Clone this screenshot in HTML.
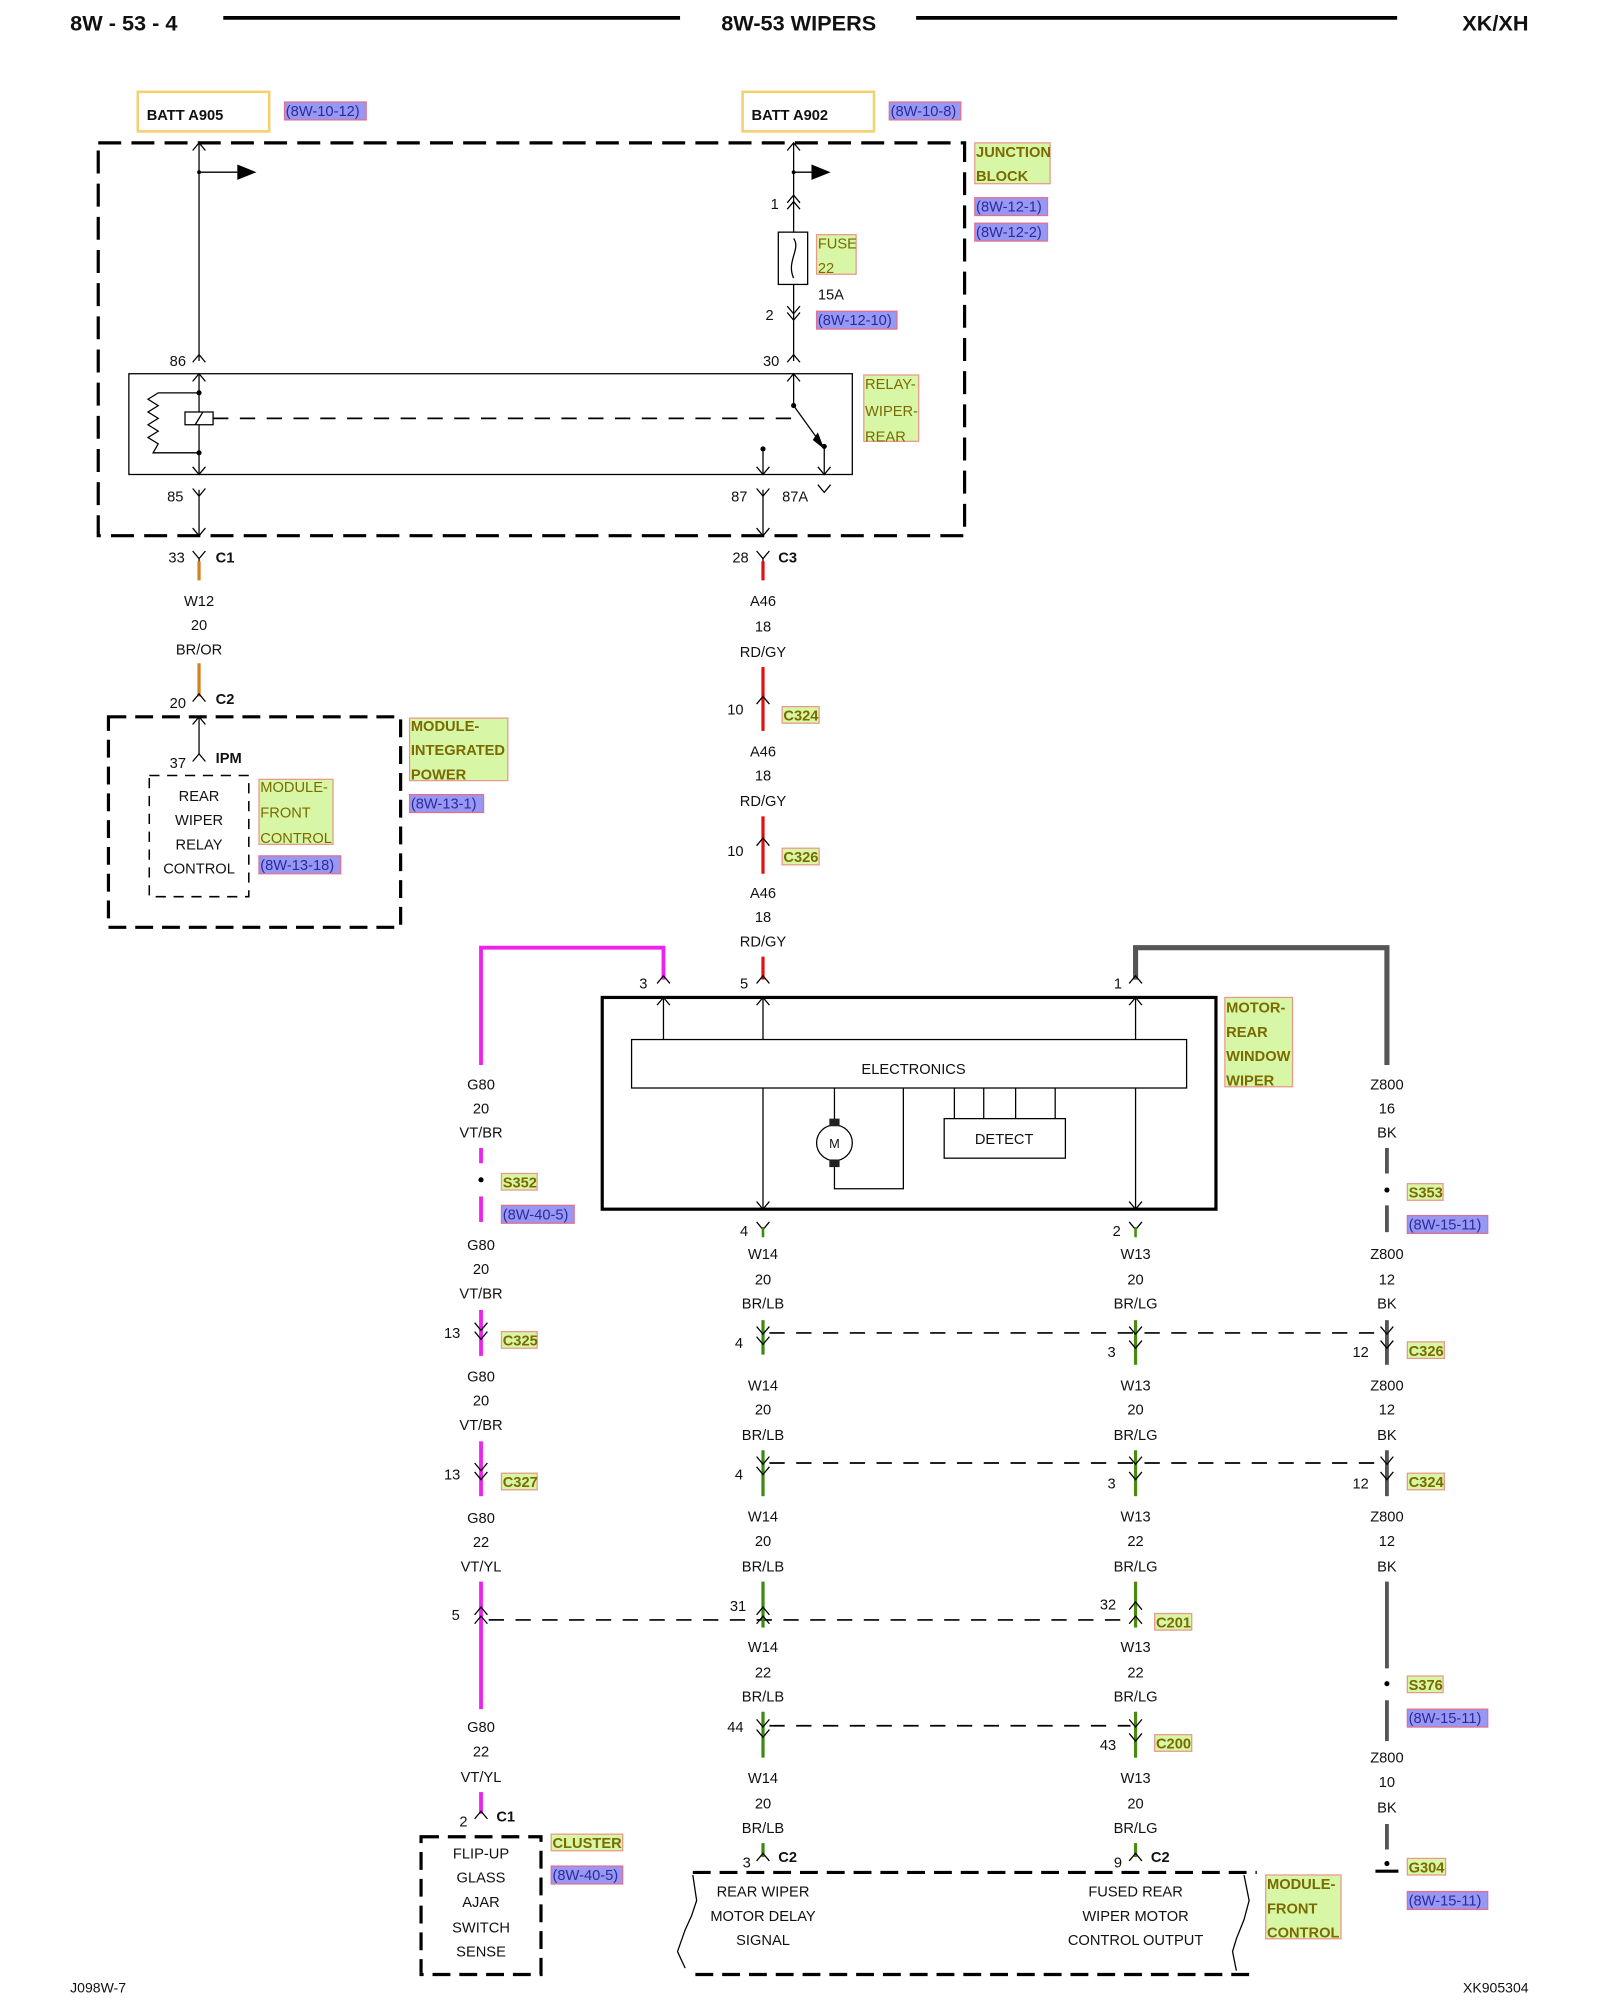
<!DOCTYPE html>
<html><head><meta charset="utf-8"><style>
html,body{margin:0;padding:0;background:#fff}
svg{display:block}
text{font-family:"Liberation Sans",sans-serif;font-size:11.5px;fill:#111}
.m{text-anchor:middle}
.b{font-weight:bold}
.g{fill:#7a6a00;font-size:11.5px}
.bl{fill:#2a2aa0;font-size:11.5px}
.h{font-size:17px;font-weight:bold}
</style></head><body>
<svg width="1600" height="2000" viewBox="0 0 1254 1568" preserveAspectRatio="none" xmlns="http://www.w3.org/2000/svg">
<defs>
<path id="up" d="M-5,6 L0,0 L5,6" fill="none" stroke="#000" stroke-width="1"/>
<path id="dn" d="M-5,-6 L0,0 L5,-6" fill="none" stroke="#000" stroke-width="1"/>
</defs>
<g fill="none" stroke="#000">
<line x1="175" y1="14" x2="533" y2="14" stroke-width="3"/>
<line x1="718" y1="14" x2="1095" y2="14" stroke-width="3"/>
</g>
<text x="55" y="24" class="h">8W - 53 - 4</text>
<text x="626" y="24" class="h m">8W-53 WIPERS</text>
<text x="1198" y="24" class="h" text-anchor="end">XK/XH</text>

<rect x="108" y="72" width="103" height="31" fill="#fff" stroke="#f5d070" stroke-width="2"/>
<text x="115" y="94" class="b">BATT A905</text>
<rect x="582" y="72" width="103" height="31" fill="#fff" stroke="#f5d070" stroke-width="2"/>
<text x="589" y="94" class="b">BATT A902</text>

<g stroke="#e07090" stroke-width="1" fill="#9898f2">
<rect x="223" y="80" width="64" height="14"/>
<rect x="697" y="80" width="56" height="14"/>
<rect x="764" y="155" width="57" height="14"/>
<rect x="764" y="175" width="57" height="14"/>
<rect x="640" y="244" width="63" height="14"/>
<rect x="203" y="671" width="64" height="14"/>
<rect x="321" y="623" width="58" height="14"/>
<rect x="393" y="945" width="57" height="14"/>
<rect x="1103" y="953" width="63" height="14"/>
<rect x="1103" y="1340" width="63" height="14"/>
<rect x="432" y="1463" width="56" height="14"/>
<rect x="1103" y="1483" width="63" height="14"/>
</g>
<text x="224" y="91" class="bl">(8W-10-12)</text>
<text x="698" y="91" class="bl">(8W-10-8)</text>
<text x="765" y="166" class="bl">(8W-12-1)</text>
<text x="765" y="186" class="bl">(8W-12-2)</text>
<text x="641" y="255" class="bl">(8W-12-10)</text>
<text x="204" y="682" class="bl">(8W-13-18)</text>
<text x="322" y="634" class="bl">(8W-13-1)</text>
<text x="394" y="956" class="bl">(8W-40-5)</text>
<text x="1104" y="964" class="bl">(8W-15-11)</text>
<text x="1104" y="1351" class="bl">(8W-15-11)</text>
<text x="433" y="1474" class="bl">(8W-40-5)</text>
<text x="1104" y="1494" class="bl">(8W-15-11)</text>

<g stroke="#e89a8a" stroke-width="1" fill="#d8f7a6">
<rect x="764" y="112" width="59" height="32"/>
<rect x="640" y="184" width="31" height="31"/>
<rect x="677" y="294" width="43" height="52"/>
<rect x="321" y="563" width="77" height="49"/>
<rect x="203" y="611" width="58" height="51"/>
<rect x="613" y="554" width="29" height="13"/>
<rect x="613" y="665" width="29" height="13"/>
<rect x="960" y="782" width="53" height="70"/>
<rect x="393" y="920" width="28" height="13"/>
<rect x="1103" y="928" width="28" height="13"/>
<rect x="393" y="1044" width="28" height="13"/>
<rect x="1103" y="1052" width="29" height="13"/>
<rect x="393" y="1155" width="28" height="13"/>
<rect x="1103" y="1155" width="29" height="13"/>
<rect x="905" y="1265" width="29" height="13"/>
<rect x="1103" y="1314" width="28" height="13"/>
<rect x="905" y="1360" width="29" height="13"/>
<rect x="432" y="1438" width="56" height="13"/>
<rect x="1103" y="1457" width="30" height="13"/>
<rect x="992" y="1470" width="59" height="50"/>
</g>
<g class="g">
<text x="765" y="123" class="g b">JUNCTION</text><text x="765" y="142" class="g b">BLOCK</text>
<text x="641" y="195" class="g">FUSE</text><text x="641" y="214" class="g">22</text>
<text x="678" y="305" class="g">RELAY-</text><text x="678" y="326" class="g">WIPER-</text><text x="678" y="346" class="g">REAR</text>
<text x="322" y="573" class="g b">MODULE-</text><text x="322" y="592" class="g b">INTEGRATED</text><text x="322" y="611" class="g b">POWER</text>
<text x="204" y="621" class="g">MODULE-</text><text x="204" y="641" class="g">FRONT</text><text x="204" y="661" class="g">CONTROL</text>
<text x="614" y="565" class="g b">C324</text>
<text x="614" y="676" class="g b">C326</text>
<text x="961" y="794" class="g b">MOTOR-</text><text x="961" y="813" class="g b">REAR</text><text x="961" y="832" class="g b">WINDOW</text><text x="961" y="851" class="g b">WIPER</text>
<text x="394" y="931" class="g b">S352</text>
<text x="1104" y="939" class="g b">S353</text>
<text x="394" y="1055" class="g b">C325</text>
<text x="1104" y="1063" class="g b">C326</text>
<text x="394" y="1166" class="g b">C327</text>
<text x="1104" y="1166" class="g b">C324</text>
<text x="906" y="1276" class="g b">C201</text>
<text x="1104" y="1325" class="g b">S376</text>
<text x="906" y="1371" class="g b">C200</text>
<text x="433" y="1449" class="g b">CLUSTER</text>
<text x="1104" y="1468" class="g b">G304</text>
<text x="993" y="1481" class="g b">MODULE-</text><text x="993" y="1500" class="g b">FRONT</text><text x="993" y="1519" class="g b">CONTROL</text>
</g>

<g fill="none" stroke="#000">
<rect x="77" y="112" width="679" height="308" stroke-width="2.5" stroke-dasharray="18,8"/>
<line x1="156" y1="112" x2="156" y2="283"/>
<line x1="622" y1="112" x2="622" y2="283"/>
<line x1="156" y1="135" x2="186" y2="135"/>
<line x1="622" y1="135" x2="636" y2="135"/>
<rect x="610" y="182" width="23" height="41" fill="#fff"/>
<path d="M622,187 C628,195 616,205 622,218" />
<rect x="101" y="293" width="567" height="79"/>
<line x1="156" y1="293" x2="156" y2="372"/>
<path d="M156,308 H124 L116,313 L124,318 L116,323 L124,328 L116,333 L124,338 L116,343 L124,348 L120,355 H156"/>
<rect x="145" y="323" width="22" height="10" fill="#fff"/>
<line x1="153" y1="333" x2="159" y2="323"/>
<line x1="167" y1="328" x2="622" y2="328" stroke-dasharray="12,9" stroke-width="1.3"/>
<line x1="622" y1="293" x2="622" y2="318"/>
<line x1="622" y1="318" x2="645" y2="350"/>
<line x1="598" y1="352" x2="598" y2="372"/>
<line x1="646" y1="350" x2="646" y2="372"/>
<line x1="156" y1="384" x2="156" y2="420"/>
<line x1="598" y1="384" x2="598" y2="420"/>
</g>
<path d="M186,129 L201,135 L186,141Z" fill="#000"/>
<path d="M636,129 L651,135 L636,141Z" fill="#000"/>
<path d="M641,339 L646,352 L637,345Z" fill="#000"/>
<g fill="#000"><circle cx="156" cy="308" r="2"/><circle cx="156" cy="355" r="2"/><circle cx="622" cy="318" r="2"/><circle cx="598" cy="352" r="2"/><circle cx="646" cy="350" r="2"/><circle cx="156" cy="135" r="1.5"/><circle cx="622" cy="135" r="1.5"/></g>
<use href="#up" x="156" y="112"/><use href="#up" x="622" y="112"/>
<use href="#up" x="622" y="153"/><use href="#up" x="622" y="158"/>
<use href="#dn" x="622" y="246"/><use href="#dn" x="622" y="251"/>
<use href="#up" x="156" y="278"/><use href="#up" x="622" y="278"/>
<use href="#up" x="156" y="293"/><use href="#up" x="622" y="293"/>
<use href="#dn" x="156" y="372"/><use href="#dn" x="598" y="372"/><use href="#dn" x="646" y="372"/>
<use href="#dn" x="156" y="389"/><use href="#dn" x="598" y="389"/><use href="#dn" x="646" y="386"/>
<use href="#dn" x="156" y="420"/><use href="#dn" x="598" y="420"/>
<text x="604" y="164">1</text><text x="641" y="235">15A</text><text x="600" y="251">2</text>
<text x="133" y="287">86</text><text x="598" y="287">30</text>
<text x="131" y="393">85</text><text x="573" y="393">87</text><text x="613" y="393">87A</text>

<use href="#dn" x="156" y="438"/><use href="#dn" x="598" y="438"/>
<line x1="156" y1="438" x2="156" y2="445" stroke="#000"/>
<line x1="598" y1="438" x2="598" y2="445" stroke="#000"/>
<text x="132" y="441">33</text><text x="169" y="441" class="b">C1</text>
<text x="574" y="441">28</text><text x="610" y="441" class="b">C3</text>
<line x1="156" y1="440" x2="156" y2="455" stroke="#d08020" stroke-width="2.5"/>
<line x1="598" y1="440" x2="598" y2="455" stroke="#e01010" stroke-width="2.5"/>
<text x="156" y="475" class="m">W12</text><text x="156" y="494" class="m">20</text><text x="156" y="513" class="m">BR/OR</text>
<line x1="156" y1="520" x2="156" y2="546" stroke="#d08020" stroke-width="2.5"/>
<use href="#up" x="156" y="544"/>
<text x="133" y="555">20</text><text x="169" y="552" class="b">C2</text>
<rect x="85" y="562" width="229" height="165" fill="none" stroke="#000" stroke-width="2.5" stroke-dasharray="14,7"/>
<line x1="156" y1="562" x2="156" y2="591" stroke="#000"/>
<use href="#up" x="156" y="562"/><use href="#up" x="156" y="591"/>
<text x="133" y="602">37</text><text x="169" y="598" class="b">IPM</text>
<rect x="117" y="608" width="78" height="95" fill="none" stroke="#000" stroke-width="1.2" stroke-dasharray="8,6"/>
<text x="156" y="628" class="m">REAR</text><text x="156" y="647" class="m">WIPER</text><text x="156" y="666" class="m">RELAY</text><text x="156" y="685" class="m">CONTROL</text>

<text x="598" y="475" class="m">A46</text><text x="598" y="495" class="m">18</text><text x="598" y="515" class="m">RD/GY</text>
<line x1="598" y1="523" x2="598" y2="573" stroke="#e01010" stroke-width="2.5"/>
<use href="#up" x="598" y="546"/><text x="570" y="560">10</text>
<text x="598" y="593" class="m">A46</text><text x="598" y="612" class="m">18</text><text x="598" y="632" class="m">RD/GY</text>
<line x1="598" y1="640" x2="598" y2="685" stroke="#e01010" stroke-width="2.5"/>
<use href="#up" x="598" y="657"/><text x="570" y="671">10</text>
<text x="598" y="704" class="m">A46</text><text x="598" y="723" class="m">18</text><text x="598" y="742" class="m">RD/GY</text>
<line x1="598" y1="750" x2="598" y2="768" stroke="#e01010" stroke-width="2.5"/>
<use href="#up" x="598" y="765"/><text x="580" y="775">5</text>

<path d="M520,768 V743 H377 V835" fill="none" stroke="#ee22ee" stroke-width="3"/>
<path d="M890,768 V743 H1087 V835" fill="none" stroke="#555" stroke-width="4"/>
<use href="#up" x="520" y="765"/><text x="501" y="775">3</text>
<use href="#up" x="890" y="765"/><text x="873" y="775">1</text>

<g fill="none" stroke="#000">
<rect x="472" y="782" width="481" height="166" stroke-width="2.5"/>
<line x1="520" y1="782" x2="520" y2="815"/><line x1="598" y1="782" x2="598" y2="815"/><line x1="890" y1="782" x2="890" y2="815"/>
<rect x="495" y="815" width="435" height="38"/>
<line x1="598" y1="853" x2="598" y2="948"/><line x1="890" y1="853" x2="890" y2="948"/>
<line x1="654" y1="853" x2="654" y2="882"/>
<circle cx="654" cy="896" r="14" fill="#fff"/>
<path d="M654,910 V932 H708 V853"/>
<rect x="740" y="877" width="95" height="31"/>
<line x1="748" y1="853" x2="748" y2="877"/><line x1="771" y1="853" x2="771" y2="877"/><line x1="796" y1="853" x2="796" y2="877"/><line x1="827" y1="853" x2="827" y2="877"/>
</g>
<rect x="650" y="877" width="8" height="6" fill="#222"/><rect x="650" y="909" width="8" height="6" fill="#222"/>
<use href="#up" x="520" y="782"/><use href="#up" x="598" y="782"/><use href="#up" x="890" y="782"/>
<use href="#dn" x="598" y="948"/><use href="#dn" x="890" y="948"/>
<text x="716" y="842" class="m">ELECTRONICS</text>
<text x="654" y="900" class="m" style="font-size:10px">M</text>
<text x="787" y="897" class="m">DETECT</text>

<text x="377" y="854" class="m">G80</text><text x="377" y="873" class="m">20</text><text x="377" y="892" class="m">VT/BR</text>
<line x1="377" y1="900" x2="377" y2="912" stroke="#ee22ee" stroke-width="3"/>
<circle cx="377" cy="925" r="2" fill="#000"/>
<line x1="377" y1="938" x2="377" y2="958" stroke="#ee22ee" stroke-width="3"/>
<text x="377" y="980" class="m">G80</text><text x="377" y="999" class="m">20</text><text x="377" y="1018" class="m">VT/BR</text>
<line x1="377" y1="1027" x2="377" y2="1063" stroke="#ee22ee" stroke-width="3"/>
<use href="#dn" x="377" y="1043"/><use href="#dn" x="377" y="1050"/><text x="348" y="1049">13</text>
<text x="377" y="1083" class="m">G80</text><text x="377" y="1102" class="m">20</text><text x="377" y="1121" class="m">VT/BR</text>
<line x1="377" y1="1130" x2="377" y2="1173" stroke="#ee22ee" stroke-width="3"/>
<use href="#dn" x="377" y="1153"/><use href="#dn" x="377" y="1160"/><text x="348" y="1160">13</text>
<text x="377" y="1194" class="m">G80</text><text x="377" y="1213" class="m">22</text><text x="377" y="1232" class="m">VT/YL</text>
<line x1="377" y1="1240" x2="377" y2="1340" stroke="#ee22ee" stroke-width="3"/>
<use href="#up" x="377" y="1260"/><use href="#up" x="377" y="1267"/><text x="354" y="1270">5</text>
<text x="377" y="1358" class="m">G80</text><text x="377" y="1377" class="m">22</text><text x="377" y="1397" class="m">VT/YL</text>
<line x1="377" y1="1405" x2="377" y2="1422" stroke="#ee22ee" stroke-width="3"/>
<use href="#up" x="377" y="1420"/><text x="360" y="1432">2</text><text x="389" y="1428" class="b">C1</text>
<rect x="330" y="1440" width="94" height="108" fill="none" stroke="#000" stroke-width="2.5" stroke-dasharray="14,7"/>
<text x="377" y="1457" class="m">FLIP-UP</text><text x="377" y="1476" class="m">GLASS</text><text x="377" y="1495" class="m">AJAR</text><text x="377" y="1515" class="m">SWITCH</text><text x="377" y="1534" class="m">SENSE</text>

<g stroke="#000" stroke-width="1.3" stroke-dasharray="12,9" fill="none">
<line x1="603" y1="1045" x2="1082" y2="1045"/>
<line x1="603" y1="1147" x2="1082" y2="1147"/>
<line x1="383" y1="1270" x2="886" y2="1270"/>
<line x1="603" y1="1353" x2="886" y2="1353"/>
</g>

<use href="#dn" x="598" y="964"/><text x="580" y="969">4</text>
<line x1="598" y1="962" x2="598" y2="970" stroke="#3a8a10" stroke-width="2"/>
<text x="598" y="987" class="m">W14</text><text x="598" y="1007" class="m">20</text><text x="598" y="1026" class="m">BR/LB</text>
<line x1="598" y1="1035" x2="598" y2="1062" stroke="#3a8a10" stroke-width="2.5"/>
<use href="#dn" x="598" y="1046"/><use href="#dn" x="598" y="1054"/><text x="576" y="1057">4</text>
<text x="598" y="1090" class="m">W14</text><text x="598" y="1109" class="m">20</text><text x="598" y="1129" class="m">BR/LB</text>
<line x1="598" y1="1137" x2="598" y2="1173" stroke="#3a8a10" stroke-width="2.5"/>
<use href="#dn" x="598" y="1148"/><use href="#dn" x="598" y="1156"/><text x="576" y="1160">4</text>
<text x="598" y="1193" class="m">W14</text><text x="598" y="1212" class="m">20</text><text x="598" y="1232" class="m">BR/LB</text>
<line x1="598" y1="1240" x2="598" y2="1276" stroke="#3a8a10" stroke-width="2.5"/>
<use href="#up" x="598" y="1260"/><use href="#up" x="598" y="1267"/><text x="572" y="1263">31</text>
<text x="598" y="1295" class="m">W14</text><text x="598" y="1315" class="m">22</text><text x="598" y="1334" class="m">BR/LB</text>
<line x1="598" y1="1342" x2="598" y2="1378" stroke="#3a8a10" stroke-width="2.5"/>
<use href="#dn" x="598" y="1354"/><use href="#dn" x="598" y="1362"/><text x="570" y="1358">44</text>
<text x="598" y="1398" class="m">W14</text><text x="598" y="1418" class="m">20</text><text x="598" y="1437" class="m">BR/LB</text>
<line x1="598" y1="1445" x2="598" y2="1456" stroke="#3a8a10" stroke-width="2.5"/>
<use href="#up" x="598" y="1453"/><text x="582" y="1464">3</text><text x="610" y="1460" class="b">C2</text>

<use href="#dn" x="890" y="964"/><text x="872" y="969">2</text>
<line x1="890" y1="962" x2="890" y2="970" stroke="#4a8a10" stroke-width="2"/>
<text x="890" y="987" class="m">W13</text><text x="890" y="1007" class="m">20</text><text x="890" y="1026" class="m">BR/LG</text>
<line x1="890" y1="1035" x2="890" y2="1070" stroke="#4a8a10" stroke-width="2.5"/>
<use href="#dn" x="890" y="1046"/><use href="#dn" x="890" y="1057"/><text x="868" y="1064">3</text>
<text x="890" y="1090" class="m">W13</text><text x="890" y="1109" class="m">20</text><text x="890" y="1129" class="m">BR/LG</text>
<line x1="890" y1="1137" x2="890" y2="1173" stroke="#4a8a10" stroke-width="2.5"/>
<use href="#dn" x="890" y="1148"/><use href="#dn" x="890" y="1160"/><text x="868" y="1167">3</text>
<text x="890" y="1193" class="m">W13</text><text x="890" y="1212" class="m">22</text><text x="890" y="1232" class="m">BR/LG</text>
<line x1="890" y1="1240" x2="890" y2="1276" stroke="#4a8a10" stroke-width="2.5"/>
<use href="#up" x="890" y="1256"/><use href="#up" x="890" y="1267"/><text x="862" y="1262">32</text>
<text x="890" y="1295" class="m">W13</text><text x="890" y="1315" class="m">22</text><text x="890" y="1334" class="m">BR/LG</text>
<line x1="890" y1="1342" x2="890" y2="1378" stroke="#4a8a10" stroke-width="2.5"/>
<use href="#dn" x="890" y="1354"/><use href="#dn" x="890" y="1365"/><text x="862" y="1372">43</text>
<text x="890" y="1398" class="m">W13</text><text x="890" y="1418" class="m">20</text><text x="890" y="1437" class="m">BR/LG</text>
<line x1="890" y1="1445" x2="890" y2="1456" stroke="#4a8a10" stroke-width="2.5"/>
<use href="#up" x="890" y="1453"/><text x="873" y="1464">9</text><text x="902" y="1460" class="b">C2</text>

<text x="1087" y="854" class="m">Z800</text><text x="1087" y="873" class="m">16</text><text x="1087" y="892" class="m">BK</text>
<line x1="1087" y1="900" x2="1087" y2="920" stroke="#555" stroke-width="3"/>
<circle cx="1087" cy="933" r="2" fill="#000"/>
<line x1="1087" y1="945" x2="1087" y2="966" stroke="#555" stroke-width="3"/>
<text x="1087" y="987" class="m">Z800</text><text x="1087" y="1007" class="m">12</text><text x="1087" y="1026" class="m">BK</text>
<line x1="1087" y1="1035" x2="1087" y2="1070" stroke="#555" stroke-width="3"/>
<use href="#dn" x="1087" y="1046"/><use href="#dn" x="1087" y="1057"/><text x="1060" y="1064">12</text>
<text x="1087" y="1090" class="m">Z800</text><text x="1087" y="1109" class="m">12</text><text x="1087" y="1129" class="m">BK</text>
<line x1="1087" y1="1137" x2="1087" y2="1173" stroke="#555" stroke-width="3"/>
<use href="#dn" x="1087" y="1148"/><use href="#dn" x="1087" y="1160"/><text x="1060" y="1167">12</text>
<text x="1087" y="1193" class="m">Z800</text><text x="1087" y="1212" class="m">12</text><text x="1087" y="1232" class="m">BK</text>
<line x1="1087" y1="1240" x2="1087" y2="1308" stroke="#555" stroke-width="3"/>
<circle cx="1087" cy="1320" r="2" fill="#000"/>
<line x1="1087" y1="1333" x2="1087" y2="1365" stroke="#555" stroke-width="3"/>
<text x="1087" y="1382" class="m">Z800</text><text x="1087" y="1401" class="m">10</text><text x="1087" y="1421" class="m">BK</text>
<line x1="1087" y1="1430" x2="1087" y2="1450" stroke="#555" stroke-width="3"/>
<circle cx="1087" cy="1461" r="2" fill="#000"/>
<line x1="1078" y1="1467" x2="1096" y2="1467" stroke="#000" stroke-width="2.5"/>

<path d="M543,1468 H985" fill="none" stroke="#000" stroke-width="2.5" stroke-dasharray="14,7"/>
<path d="M545,1548 H985" fill="none" stroke="#000" stroke-width="2.5" stroke-dasharray="14,7"/>
<path d="M543,1470 L546,1490 L542,1502 L537,1513 L531,1530 L537,1543" fill="none" stroke="#000"/>
<path d="M975,1470 L979,1490 L975,1505 L969,1520 L966,1530 L969,1545" fill="none" stroke="#000"/>
<text x="598" y="1487" class="m">REAR WIPER</text><text x="598" y="1506" class="m">MOTOR DELAY</text><text x="598" y="1525" class="m">SIGNAL</text>
<text x="890" y="1487" class="m">FUSED REAR</text><text x="890" y="1506" class="m">WIPER MOTOR</text><text x="890" y="1525" class="m">CONTROL OUTPUT</text>

<text x="55" y="1562" style="font-size:11px">J098W-7</text>
<text x="1198" y="1562" text-anchor="end" style="font-size:11px">XK905304</text>
</svg>
</body></html>
